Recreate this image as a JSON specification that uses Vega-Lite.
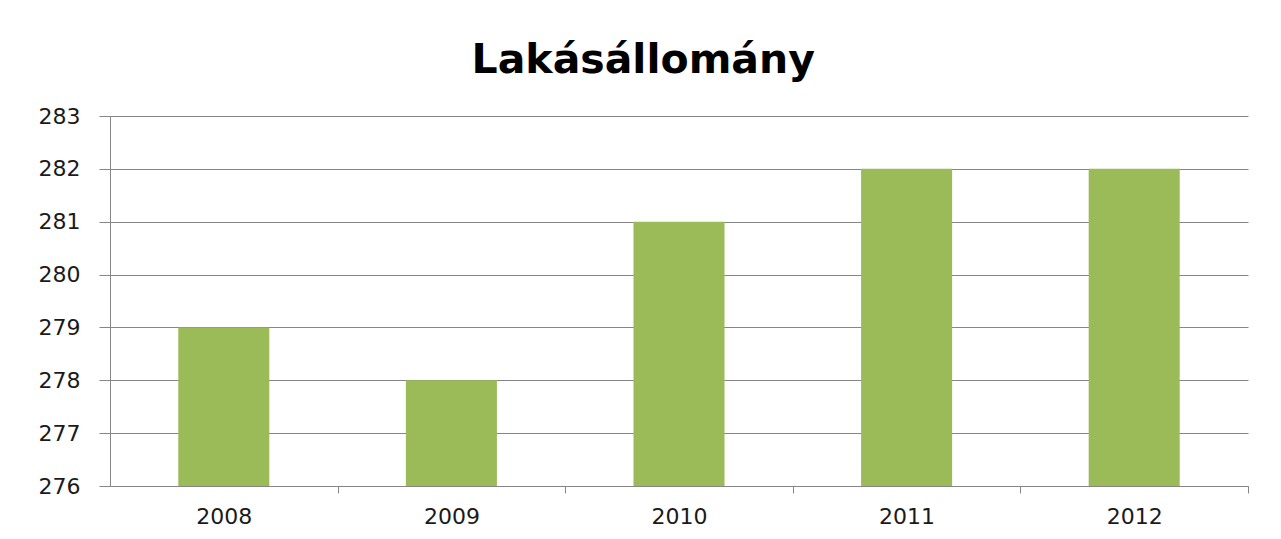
{
  "$schema": "https://vega.github.io/schema/vega-lite/v6.json",
  "autosize": "none",
  "width": 1138,
  "height": 370,
  "padding": {"left": 110, "top": 116, "right": 33, "bottom": 53},
  "background": "white",
  "title": {
    "text": "Lakásállomány",
    "font": "DejaVu Sans",
    "fontSize": 41,
    "fontWeight": "bold",
    "color": "#000000",
    "anchor": "middle",
    "frame": "bounds",
    "offset": 23
  },
  "data": {
    "values": [
      {"year": "2008", "value": 279},
      {"year": "2009", "value": 278},
      {"year": "2010", "value": 281},
      {"year": "2011", "value": 282},
      {"year": "2012", "value": 282}
    ]
  },
  "mark": {"type": "bar", "color": "#9BBB59", "clip": true},
  "encoding": {
    "x": {
      "field": "year",
      "type": "nominal",
      "sort": null,
      "scale": {"paddingInner": 0.6, "paddingOuter": 0.3},
      "axis": {
        "title": null,
        "labelAngle": 0,
        "bandPosition": 1,
        "tickOffset": 68.28,
        "labelOffset": -68.28,
        "tickSize": 7,
        "tickColor": "#868686",
        "domainColor": "#868686",
        "labelPadding": 13,
        "labelFont": "DejaVu Sans",
        "labelFontSize": 22,
        "labelColor": "#1a1a1a",
        "grid": false
      }
    },
    "y": {
      "field": "value",
      "type": "quantitative",
      "scale": {"domain": [276, 283], "nice": false, "zero": false},
      "axis": {
        "title": null,
        "values": [276, 277, 278, 279, 280, 281, 282, 283],
        "tickSize": 11,
        "tickColor": "#868686",
        "domainColor": "#868686",
        "gridColor": "#868686",
        "labelPadding": 19,
        "labelFont": "DejaVu Sans",
        "labelFontSize": 22,
        "labelColor": "#1a1a1a"
      }
    }
  },
  "config": {"view": {"stroke": null}}
}
